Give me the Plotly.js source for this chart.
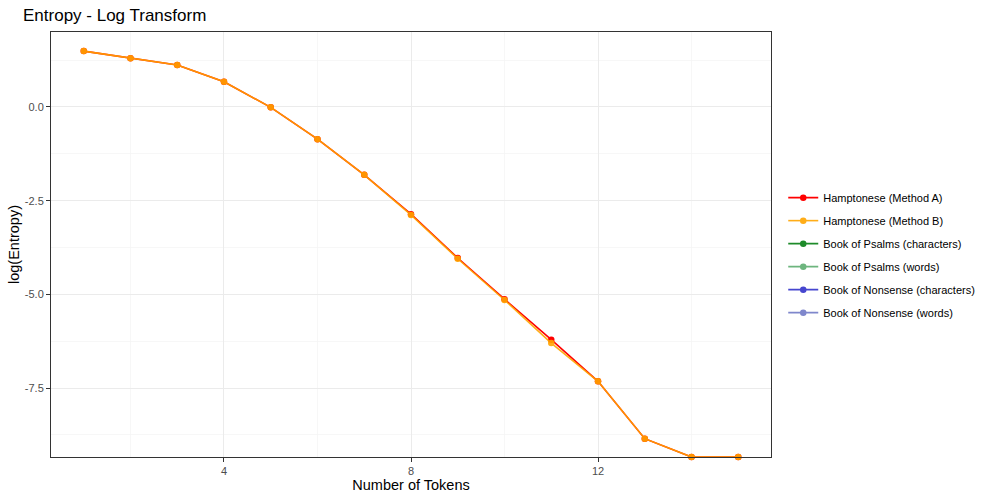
<!DOCTYPE html>
<html>
<head>
<meta charset="utf-8">
<script src="https://cdn.plot.ly/plotly-3.0.1.min.js"></script>
<style>html,body{margin:0;padding:0;background:#fff;}#chart{width:1000px;height:500px;}</style>
</head>
<body>
<div id="chart"></div>
<script>
const tokens = [1, 2, 3, 4, 5, 6, 7, 8, 9, 10, 11, 12, 13, 14, 15];
const hamptoneseA = [1.49, 1.30, 1.12, 0.67, -0.01, -0.86, -1.81, -2.86, -4.03, -5.13, -6.21, -7.32, -8.85, -9.34, -9.34];
const hamptoneseB = [1.49, 1.30, 1.12, 0.67, -0.01, -0.86, -1.81, -2.88, -4.05, -5.15, -6.30, -7.32, -8.85, -9.34, -9.34];
const seriesNames = ["Hamptonese (Method A)", "Hamptonese (Method B)", "Book of Psalms (characters)", "Book of Psalms (words)", "Book of Nonsense (characters)", "Book of Nonsense (words)"];
const seriesColors = ["#FF0000", "#FFA500", "#1E8B2A", "#6DB57E", "#4646CF", "#7F87CC"];
const yTickVals = [-7.5, -5.0, -2.5, 0.0];
const yTickText = ["-7.5", "-5.0", "-2.5", "0.0"];
const xTickVals = [4, 8, 12];
const xTickText = ["4", "8", "12"];

const seriesData = [hamptoneseA, hamptoneseB, null, null, null, null];

const traces = seriesNames.map((name, i) => {
  const d = seriesData[i];
  return {
    x: d ? tokens : [null],
    y: d ? d : [null],
    type: 'scatter',
    mode: 'lines+markers',
    name: name,
    legendgroup: 'g' + i,
    showlegend: true,
    opacity: i === 1 ? 0.9 : 1,
    line: {color: seriesColors[i], width: 1.6},
    marker: {color: seriesColors[i], size: 6.5},
    cliponaxis: false
  };
});

const font = "'Liberation Sans', Arial, Helvetica, sans-serif";

const layout = {
  width: 1000, height: 500,
  paper_bgcolor: '#ffffff', plot_bgcolor: '#ffffff',
  margin: {l: 51, r: 229, t: 32, b: 43},
  font: {family: font, color: '#000'},
  title: {text: 'Entropy - Log Transform', x: 0.023, xanchor: 'left', y: 0.97, yanchor: 'middle', font: {size: 17, family: font, color: '#000'}},
  xaxis: {
    range: [0.3, 15.7], tickvals: xTickVals, ticktext: xTickText,
    showgrid: true, gridcolor: '#EBEBEB', gridwidth: 1,
    minor: {tickmode: 'array', tickvals: [2, 6, 10, 14], showgrid: true, gridcolor: '#F4F4F4', gridwidth: 0.7, ticks: ''},
    zeroline: false, showline: true, linecolor: '#333333', linewidth: 1, mirror: true,
    ticks: 'outside', ticklen: 4, tickcolor: '#333333', tickwidth: 1,
    tickfont: {size: 11, color: '#4D4D4D', family: font},
    title: {text: 'Number of Tokens', font: {size: 14.5, color: '#000', family: font}, standoff: 2}
  },
  yaxis: {
    range: [-9.34, 2.0], tickvals: yTickVals, ticktext: yTickText,
    showgrid: true, gridcolor: '#EBEBEB', gridwidth: 1,
    minor: {tickmode: 'array', tickvals: [-8.75, -6.25, -3.75, -1.25, 1.25], showgrid: true, gridcolor: '#F4F4F4', gridwidth: 0.7, ticks: ''},
    zeroline: false, showline: true, linecolor: '#333333', linewidth: 1, mirror: true,
    ticks: 'outside', ticklen: 4, tickcolor: '#333333', tickwidth: 1,
    tickfont: {size: 11, color: '#4D4D4D', family: font},
    title: {text: 'log(Entropy)', font: {size: 14.5, color: '#000', family: font}, standoff: 1}
  },
  legend: {
    x: 1.017, xanchor: 'left', y: 0.475, yanchor: 'middle',
    font: {size: 11, color: '#000', family: font},
    tracegroupgap: 4, bgcolor: 'rgba(0,0,0,0)', itemwidth: 30
  }
};

Plotly.newPlot('chart', traces, layout, {displayModeBar: false, staticPlot: true});
</script>
</body>
</html>
